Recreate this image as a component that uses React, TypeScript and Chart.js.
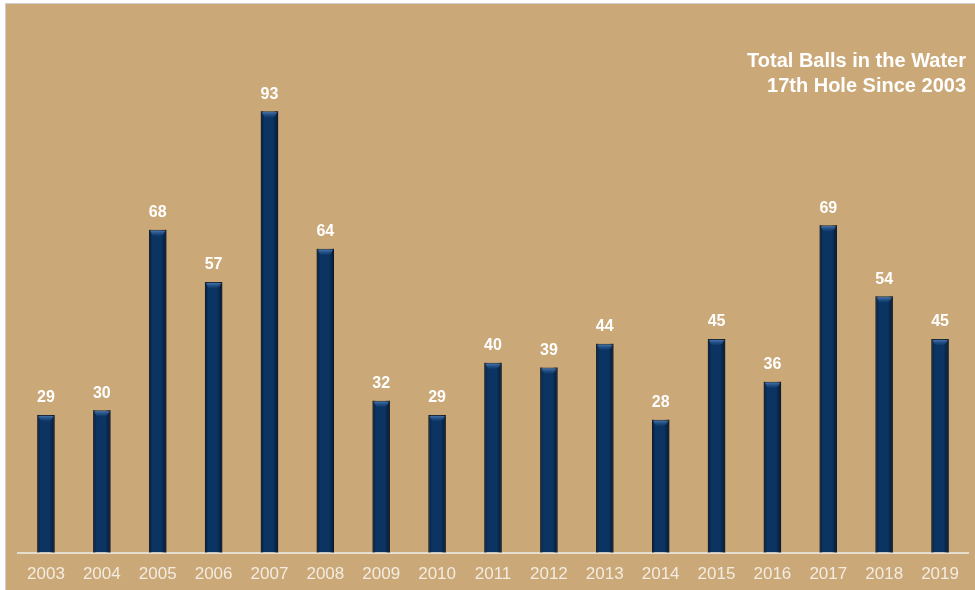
import React, { useEffect, useRef } from "react";
import { Chart, registerables } from "chart.js";

Chart.register(...registerables);

const years = ["2003","2004","2005","2006","2007","2008","2009","2010","2011","2012","2013","2014","2015","2016","2017","2018","2019"];
const ballsInWater = [29, 30, 68, 57, 93, 64, 32, 29, 40, 39, 44, 28, 45, 36, 69, 54, 45];
const titleLines = ["Total Balls in the Water", "17th Hole Since 2003"];

const FONT = "'Liberation Sans', Arial, Helvetica, sans-serif";

const barStylePlugin = {
  id: "barStyle",
  afterDatasetsDraw(chart: any) {
    const ctx = chart.ctx;
    const meta = chart.getDatasetMeta(0);
    meta.data.forEach((bar: any, i: number) => {
      const { x, y, base, width } = bar.getProps(["x", "y", "base", "width"], true);
      const left = x - width / 2;
      const right = x + width / 2;
      ctx.save();
      const g = ctx.createLinearGradient(left, 0, right, 0);
      g.addColorStop(0, "rgba(5,18,35,0.75)");
      g.addColorStop(0.2, "rgba(5,18,35,0.0)");
      g.addColorStop(0.7, "rgba(5,18,35,0.0)");
      g.addColorStop(1, "rgba(5,18,35,0.8)");
      ctx.fillStyle = g;
      ctx.fillRect(left, y, width, base - y);
      const bg = ctx.createLinearGradient(0, y, 0, y + 7);
      bg.addColorStop(0, "rgba(90,140,200,0.9)");
      bg.addColorStop(1, "rgba(40,90,150,0.0)");
      ctx.fillStyle = bg;
      ctx.beginPath();
      ctx.moveTo(left + 1, y + 1);
      ctx.lineTo(right - 1, y + 1);
      ctx.lineTo(right - 3, y + 5);
      ctx.quadraticCurveTo(x, y + 8, left + 3, y + 5);
      ctx.closePath();
      ctx.fill();
      ctx.fillStyle = "#ffffff";
      ctx.font = `bold 16px ${FONT}`;
      ctx.textAlign = "center";
      ctx.textBaseline = "bottom";
      ctx.fillText(String(ballsInWater[i]), x, y - 9);
      ctx.restore();
    });
  },
  afterDraw(chart: any) {
    const ctx = chart.ctx;
    const area = chart.chartArea;
    ctx.save();
    ctx.fillStyle = "#ffffff";
    ctx.font = `bold 20px ${FONT}`;
    ctx.textAlign = "right";
    ctx.textBaseline = "middle";
    ctx.fillText(titleLines[0], area.right - 2, 61);
    ctx.fillText(titleLines[1], area.right - 2, 86);
    ctx.restore();
  },
};

export default function App() {
  const canvasRef = useRef<HTMLCanvasElement | null>(null);

  useEffect(() => {
    document.body.style.margin = "0";
    const canvas = canvasRef.current;
    if (!canvas) return;
    const chart = new Chart(canvas, {
      type: "bar",
      data: {
        labels: years,
        datasets: [
          {
            data: ballsInWater,
            backgroundColor: "#0b3463",
            borderColor: "#1c2b3d",
            borderWidth: 1,
            barPercentage: 0.31,
            categoryPercentage: 1,
          },
        ],
      },
      options: {
        animation: false,
        responsive: false,
        maintainAspectRatio: false,
        layout: { padding: { top: 78, left: 18, right: 7, bottom: -7 } },
        plugins: {
          legend: { display: false },
          tooltip: { enabled: false },
          title: { display: false },
        },
        scales: {
          x: {
            grid: { display: false, drawTicks: false, tickLength: 0 },
            border: { display: true, color: "#e6ddcf", width: 2 },
            ticks: {
              color: "#f3ece1",
              font: { family: FONT, size: 17 },
              padding: 12,
              maxRotation: 0,
              autoSkip: false,
            },
          },
          y: {
            display: false,
            min: 0,
            max: 100,
          },
        },
      },
      plugins: [barStylePlugin],
    });
    return () => chart.destroy();
  }, []);

  return (
    <div style={{ position: "relative", width: 975, height: 590, background: "#ffffff", overflow: "hidden" }}>
      <div
        style={{
          position: "absolute",
          left: 5,
          top: 3,
          right: 0,
          bottom: 0,
          background: "#cba877",
          borderLeft: "1px solid #cfcfcf",
          borderTop: "1px solid #cfcfcf",
        }}
      />
      <canvas
        ref={canvasRef}
        width={975}
        height={590}
        style={{ position: "absolute", left: 0, top: 0, width: 975, height: 590 }}
      />
    </div>
  );
}
